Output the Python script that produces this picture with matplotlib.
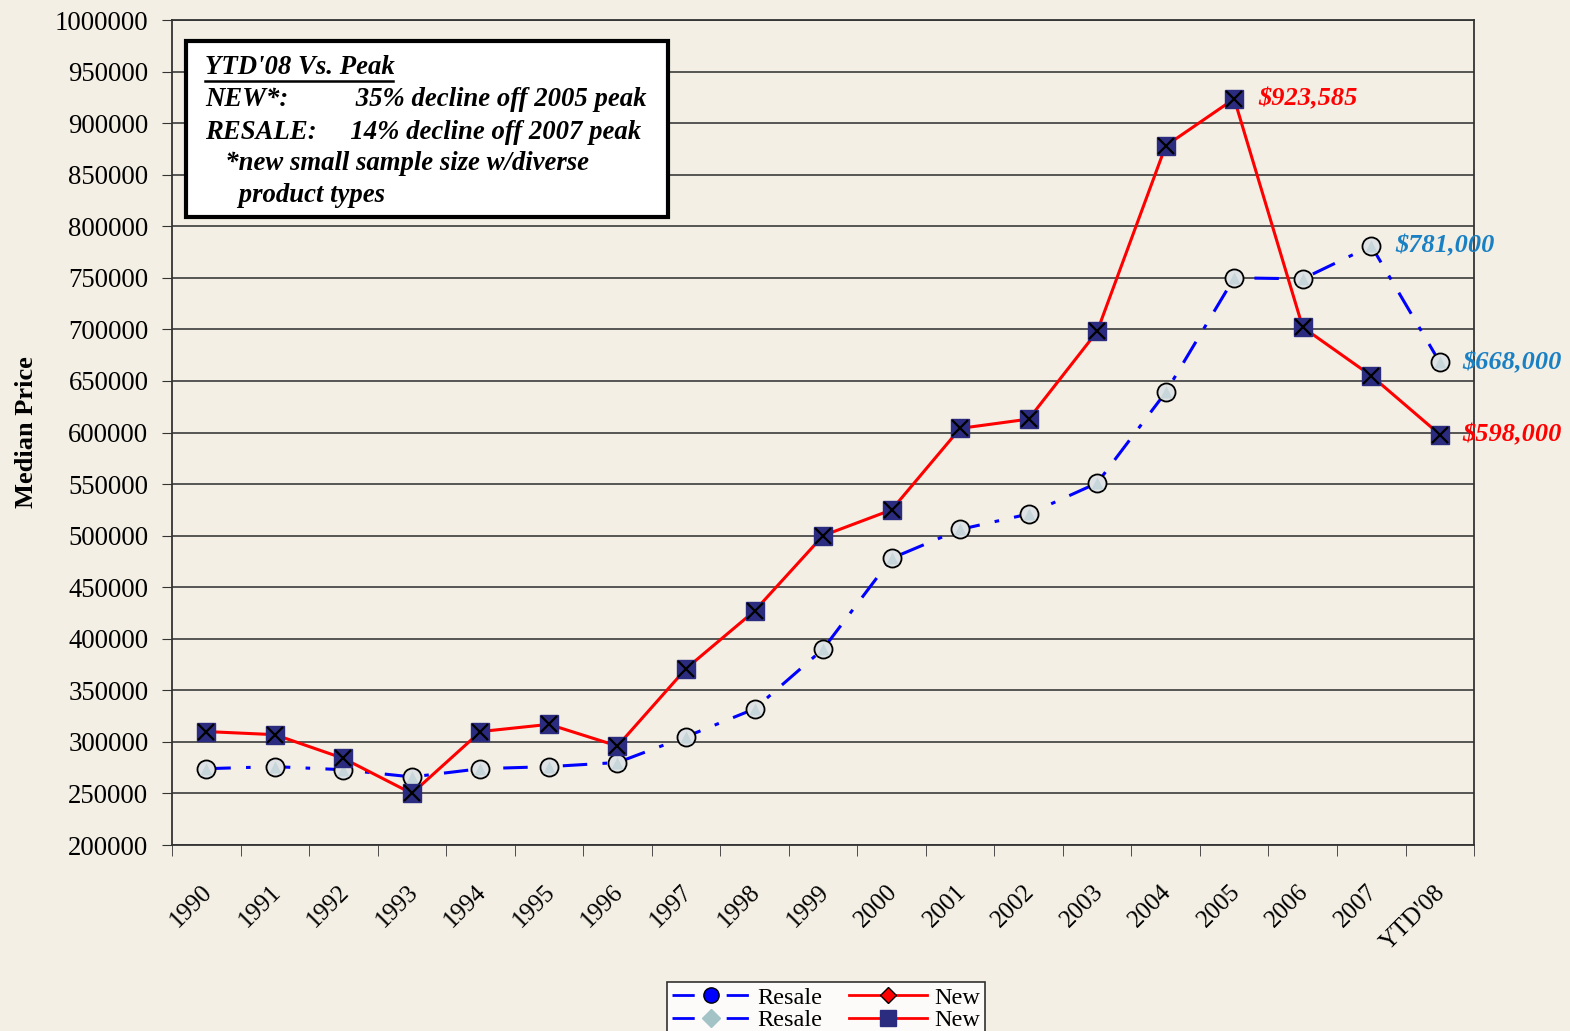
import numpy as np
import matplotlib
matplotlib.use('Agg')
import matplotlib.pyplot as plt
from matplotlib.lines import Line2D

years = ['1990', '1991', '1992', '1993', '1994', '1995', '1996', '1997', '1998', '1999',
         '2000', '2001', '2002', '2003', '2004', '2005', '2006', '2007', "YTD'08"]
resale = [274000, 276000, 273000, 266000, 274000, 276000, 280000, 305000, 332000, 390000,
          478000, 506000, 521000, 551000, 639000, 750000, 749000, 781000, 668000]
new = [310000, 307000, 284000, 250000, 310000, 317000, 296000, 371000, 427000, 500000,
       525000, 604000, 613000, 698000, 878000, 923585, 702000, 655000, 598000]

note_title = "YTD'08 Vs. Peak"
note_lines = ["NEW*:          35% decline off 2005 peak",
              "RESALE:     14% decline off 2007 peak",
              "   *new small sample size w/diverse",
              "     product types"]

bg = '#f3efe4'
blue = '#0000ff'
red = '#ff0000'
navy = '#2b2b80'
label_blue = '#1a80c4'
dashdot = (0, (8, 5, 1.5, 5))

plt.rcParams['font.family'] = 'Liberation Serif'

fig = plt.figure(figsize=(15.7, 10.31), dpi=100, facecolor=bg)
ax = fig.add_axes([0.1096, 0.1804, 0.8293, 0.8002], facecolor=bg)

x = np.arange(len(years))

# resale: dash-dot blue with light circle + pale marker
ax.plot(x, resale, color=blue, lw=2.2, linestyle=dashdot, zorder=3)
ax.plot(x, resale, linestyle='none', marker='o', ms=13, mfc='#dfe3e5', mec='black', mew=1.3, zorder=4)
ax.plot(x, resale, linestyle='none', marker='^', ms=8, mfc='#c7d6da', mec='none', zorder=5)

# new: solid red with navy square + black x
ax.plot(x, new, color=red, lw=2.2, zorder=3)
ax.plot(x, new, linestyle='none', marker='s', ms=13, mfc=navy, mec=navy, zorder=6)
ax.plot(x, new, linestyle='none', marker='x', ms=12, mec='black', mew=1.6, zorder=7)

ax.set_xlim(-0.5, len(years) - 0.5)
ax.set_ylim(200000, 1000000)
ax.set_yticks(np.arange(200000, 1000001, 50000))
ax.set_yticklabels([str(v) for v in range(200000, 1000001, 50000)], fontsize=19.3)
ax.yaxis.grid(True, color='#555555', lw=1.4)
ax.set_axisbelow(True)

# rotated labels end a little right of each category centre, like the original
ax.set_xticks(x + 0.15)
ax.set_xticklabels(years, fontsize=18, rotation=45, ha='right', va='top')
ax.set_xticks(np.arange(-0.5, len(years)), minor=True)
ax.tick_params(axis='x', which='major', length=0, pad=26)
ax.tick_params(axis='x', which='minor', length=8, color='#333333')
ax.tick_params(axis='y', length=7, color='#333333', direction='out', pad=10)
for s in ax.spines.values():
    s.set_color('#333333')
    s.set_linewidth(1.3)

ax.set_ylabel('Median Price', fontsize=19, fontweight='bold', labelpad=12)

# value labels
lab = dict(fontsize=19, fontweight='bold', style='italic', va='center')
ax.text(15.35, new[15], '$923,585', color=red, **lab)
ax.text(17.35, resale[17], '$781,000', color=label_blue, **lab)
ax.text(18.33, resale[18], '$668,000', color=label_blue, **lab)
ax.text(18.33, new[18], '$598,000', color=red, **lab)

# note box
fig.patches.append(plt.Rectangle((186 / 1570, 1 - 217 / 1031), 482 / 1570, 176 / 1031,
                                 transform=fig.transFigure, facecolor='white',
                                 edgecolor='black', lw=3, zorder=10))
note = dict(fontsize=19.3, fontweight='bold', style='italic', va='center', zorder=11)
fig.text(205 / 1570, 1 - 68 / 1031, note_title, **note)
fig.lines.append(Line2D([205 / 1570, 393 / 1570], [1 - 81 / 1031, 1 - 81 / 1031],
                        transform=fig.transFigure, color='black', lw=1.8, zorder=11))
for i, line in enumerate(note_lines):
    fig.text(205 / 1570, 1 - (100 + 32 * i) / 1031, line, **note)

# legend
handles = [
    Line2D([], [], color=blue, lw=2, linestyle=dashdot, marker='o', ms=11,
           mfc=blue, mec='black'),
    Line2D([], [], color=blue, lw=2, linestyle=dashdot, marker='D', ms=9,
           mfc='#a3c3c6', mec='#a3c3c6'),
    Line2D([], [], color=red, lw=2, marker='D', ms=8, mfc=red, mec='black'),
    Line2D([], [], color=red, lw=2, marker='s', ms=11, mfc=navy, mec=navy),
]
leg = fig.legend(handles, ['Resale', 'Resale', 'New', 'New'], ncol=2,
                 loc='upper center', bbox_to_anchor=(826 / 1570, 1 - 982 / 1031),
                 fontsize=17.5, frameon=True, fancybox=False, edgecolor='black',
                 handlelength=3.2, labelspacing=0.02, borderpad=0.2, columnspacing=1.1,
                 handletextpad=0.3, borderaxespad=0)
leg.get_frame().set_linewidth(1.2)

plt.savefig('out.png', dpi=100, facecolor=bg)
